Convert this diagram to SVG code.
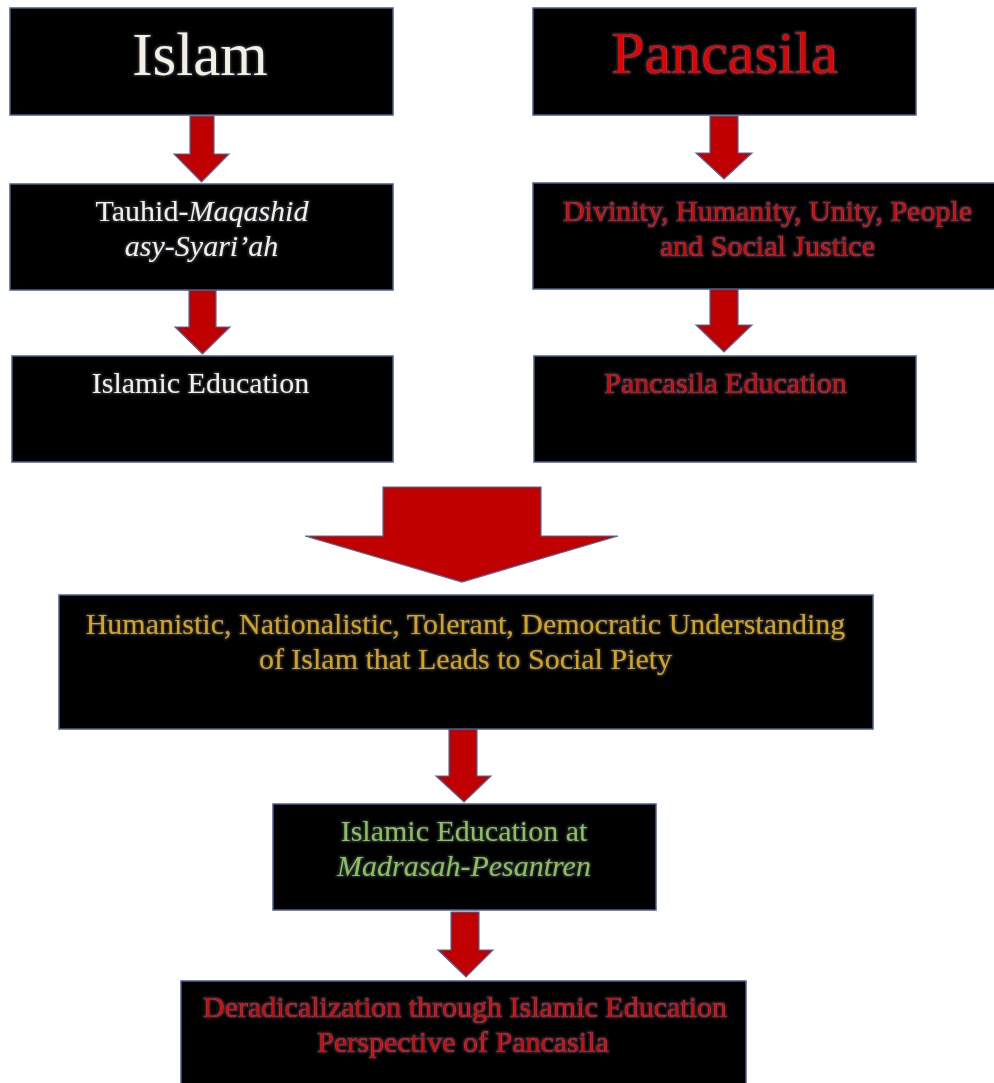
<svg xmlns="http://www.w3.org/2000/svg" width="994" height="1083" viewBox="0 0 994 1083">
<defs>
<style>
.box{fill:#000;stroke:#4a5f8f;stroke-width:1.5}
.arr{fill:#c00000;stroke:#4f6aa0;stroke-width:1.2;stroke-linejoin:miter}
text{font-family:"Liberation Serif","Times New Roman",serif;text-anchor:middle;font-size:30px}
.w{fill:#f3efe2}
.r{fill:#e60000}
.y{fill:#dba500}
.g{fill:#8cc152}
.it{font-style:italic}
.t{filter:url(#glow)}
</style>
<filter id="glow" x="-10%" y="-30%" width="120%" height="160%">
<feMorphology in="SourceAlpha" operator="dilate" radius="0.5" result="d"/>
<feGaussianBlur in="d" stdDeviation="0.8" result="b"/>
<feFlood flood-color="#8a98b8" flood-opacity="0.35"/>
<feComposite in2="b" operator="in" result="h"/>
<feMerge><feMergeNode in="h"/><feMergeNode in="SourceGraphic"/></feMerge>
</filter>
</defs>
<rect width="994" height="1083" fill="#fff"/>
<g id="connectors">
<polygon class="arr" points="190,116 214,116 214,154 229,154 201.5,182 174,154 190,154"/>
<polygon class="arr" points="189,290 216,290 216,327 230,327 202.5,354 175,327 189,327"/>
<polygon class="arr" points="710,116 738,116 738,153 752,153 724,179 696,153 710,153"/>
<polygon class="arr" points="710,289 738,289 738,325 752,325 724,352 696,325 710,325"/>
<polygon class="arr" points="383,487 541,487 541,536 618,536 462,582 305,536 383,536"/>
<polygon class="arr" points="449,729 477,729 477,776 491,776 464,802 436,776 449,776"/>
<polygon class="arr" points="451,912 479,912 479,950 493,950 466,977 438,950 451,950"/>
</g>
<g id="islam">
<rect class="box" x="10" y="8" width="383" height="107"/>
<text class="w t" x="200" y="75" style="font-size:61px">Islam</text>
</g>
<g id="pancasila">
<rect class="box" x="533" y="8" width="383" height="107"/>
<text class="r t" x="724.5" y="73" style="font-size:60px">Pancasila</text>
</g>
<g id="tauhid">
<rect class="box" x="10" y="184" width="383" height="106"/>
<text class="w t" x="202" y="221">Tauhid-<tspan class="it">Maqashid</tspan></text>
<text class="w t it" x="201.5" y="256">asy-Syari’ah</text>
</g>
<g id="divinity">
<rect class="box" x="533" y="183" width="470" height="106"/>
<text class="r t" x="767.5" y="221">Divinity, Humanity, Unity, People</text>
<text class="r t" x="767.5" y="256">and Social Justice</text>
</g>
<g id="islamic-education">
<rect class="box" x="12" y="356" width="381" height="106"/>
<text class="w t" x="200.5" y="393">Islamic Education</text>
</g>
<g id="pancasila-education">
<rect class="box" x="534" y="356" width="382" height="106"/>
<text class="r t" x="725.5" y="393">Pancasila Education</text>
</g>
<g id="humanistic">
<rect class="box" x="59" y="595" width="814" height="134"/>
<text class="y t" x="465.5" y="634">Humanistic, Nationalistic, Tolerant, Democratic Understanding</text>
<text class="y t" x="465.5" y="669">of Islam that Leads to Social Piety</text>
</g>
<g id="madrasah">
<rect class="box" x="273" y="804" width="383" height="106"/>
<text class="g t" x="464" y="841">Islamic Education at</text>
<text class="g t it" x="464" y="876">Madrasah-Pesantren</text>
</g>
<g id="deradicalization">
<rect class="box" x="181" y="981" width="565" height="110"/>
<text class="r t" x="465" y="1017">Deradicalization through Islamic Education</text>
<text class="r t" x="463" y="1052">Perspective of Pancasila</text>
</g>
</svg>
